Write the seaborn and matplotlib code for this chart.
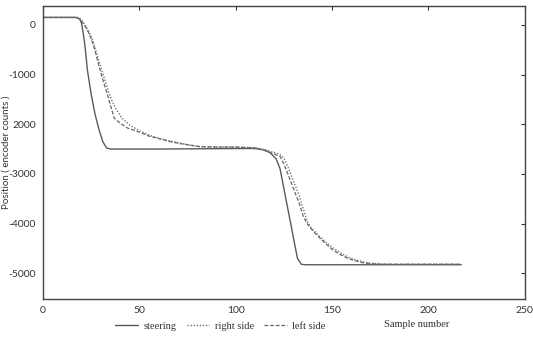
import matplotlib
matplotlib.use("Agg")
import matplotlib.pyplot as plt
import seaborn as sns
import numpy as np

# ---- data ----
steer_x = [0, 17, 19, 20, 21, 22, 23, 25, 27, 29, 31, 33, 35, 60, 100, 110, 115, 118, 121, 123, 125, 127, 129, 131, 132, 134, 136, 180, 217]
steer_y = [150, 150, 120, 30, -200, -500, -900, -1400, -1800, -2100, -2350, -2480, -2500, -2500, -2490, -2490, -2520, -2580, -2700, -2900, -3300, -3700, -4100, -4500, -4700, -4820, -4830, -4830, -4830]

right_x = [0, 18, 20, 22, 24, 26, 28, 30, 32, 34, 36, 38, 41, 45, 50, 55, 61, 66, 71, 76, 81, 90, 100, 110, 115, 120, 123, 125, 127, 129, 131, 133, 135, 137, 139, 142, 146, 150, 154, 158, 162, 166, 170, 175, 180, 200, 217]
right_y = [150, 150, 110, -20, -150, -330, -600, -850, -1100, -1350, -1550, -1700, -1880, -2020, -2130, -2220, -2290, -2340, -2380, -2420, -2450, -2460, -2460, -2470, -2510, -2570, -2610, -2680, -2850, -3050, -3250, -3450, -3700, -3950, -4080, -4200, -4350, -4480, -4580, -4670, -4730, -4770, -4800, -4810, -4820, -4820, -4820]

left_x = [0, 17, 19, 21, 23, 25, 27, 29, 31, 33, 35, 37, 40, 44, 50, 55, 61, 66, 71, 76, 81, 90, 100, 110, 115, 120, 123, 125, 127, 129, 131, 133, 135, 137, 139, 142, 146, 150, 154, 158, 162, 166, 170, 175, 180, 200, 217]
left_y = [150, 150, 120, 20, -100, -280, -520, -820, -1100, -1350, -1620, -1880, -1980, -2080, -2160, -2240, -2300, -2350, -2390, -2420, -2450, -2460, -2460, -2480, -2530, -2600, -2650, -2800, -3000, -3200, -3400, -3600, -3850, -4000, -4100, -4230, -4380, -4520, -4620, -4700, -4750, -4790, -4810, -4820, -4820, -4820, -4820]

x_ticks = [0, 50, 100, 150, 200, 250]
y_ticks = [0, -1000, -2000, -3000, -4000, -5000]
y_tick_labels = ["0", "-1000", "2000", "-3000", "-4000", "-5000"]
series_names = ["steering", "right side", "left side"]

sns.set_theme(style="white")
plt.rcParams["font.family"] = ["Liberation Serif", "DejaVu Serif"]

fig = plt.figure(figsize=(5.33, 3.47), dpi=100)
ax = fig.add_axes([0.0807, 0.1383, 0.904, 0.8444])

lc = "#5a5a5a"
sns.lineplot(x=steer_x, y=steer_y, ax=ax, color=lc, lw=1.0, label=series_names[0])
sns.lineplot(x=right_x, y=right_y, ax=ax, color="#777777", lw=1.0, linestyle=(0, (1, 1.2)), label=series_names[1])
sns.lineplot(x=left_x, y=left_y, ax=ax, color="#666666", lw=0.9, linestyle=(0, (3, 1.5)), label=series_names[2])

ax.set_xlim(0, 250)
ax.set_ylim(-5520, 380)
ax.set_xticks(x_ticks)
ax.set_xticklabels([str(v) for v in x_ticks])
ax.set_yticks(y_ticks)
ax.set_yticklabels(y_tick_labels)
ax.tick_params(direction="in", length=3, width=0.8, labelsize=7.5, colors="#333333",
               top=True, right=True, pad=5)
for lab in ax.get_xticklabels() + ax.get_yticklabels():
    lab.set_fontfamily(["Lato", "DejaVu Sans"])
for s in ax.spines.values():
    s.set_color("#444444")
    s.set_linewidth(1.0)
ax.set_xlabel("")
ax.set_ylabel("Position ( encoder counts )", fontsize=7, color="#333333",
              fontfamily=["Lato", "DejaVu Sans"])
ax.yaxis.set_label_coords(-0.068, 0.5)

ax.legend(loc="upper left", bbox_to_anchor=(0.13, -0.045), ncol=3, frameon=False,
          fontsize=7.5, handlelength=2.2, handletextpad=0.5, columnspacing=1.0,
          labelcolor="#333333")
fig.text(0.72, 0.058, "Sample number", fontsize=7.5, color="#333333")

fig.savefig("out.png", dpi=100)
